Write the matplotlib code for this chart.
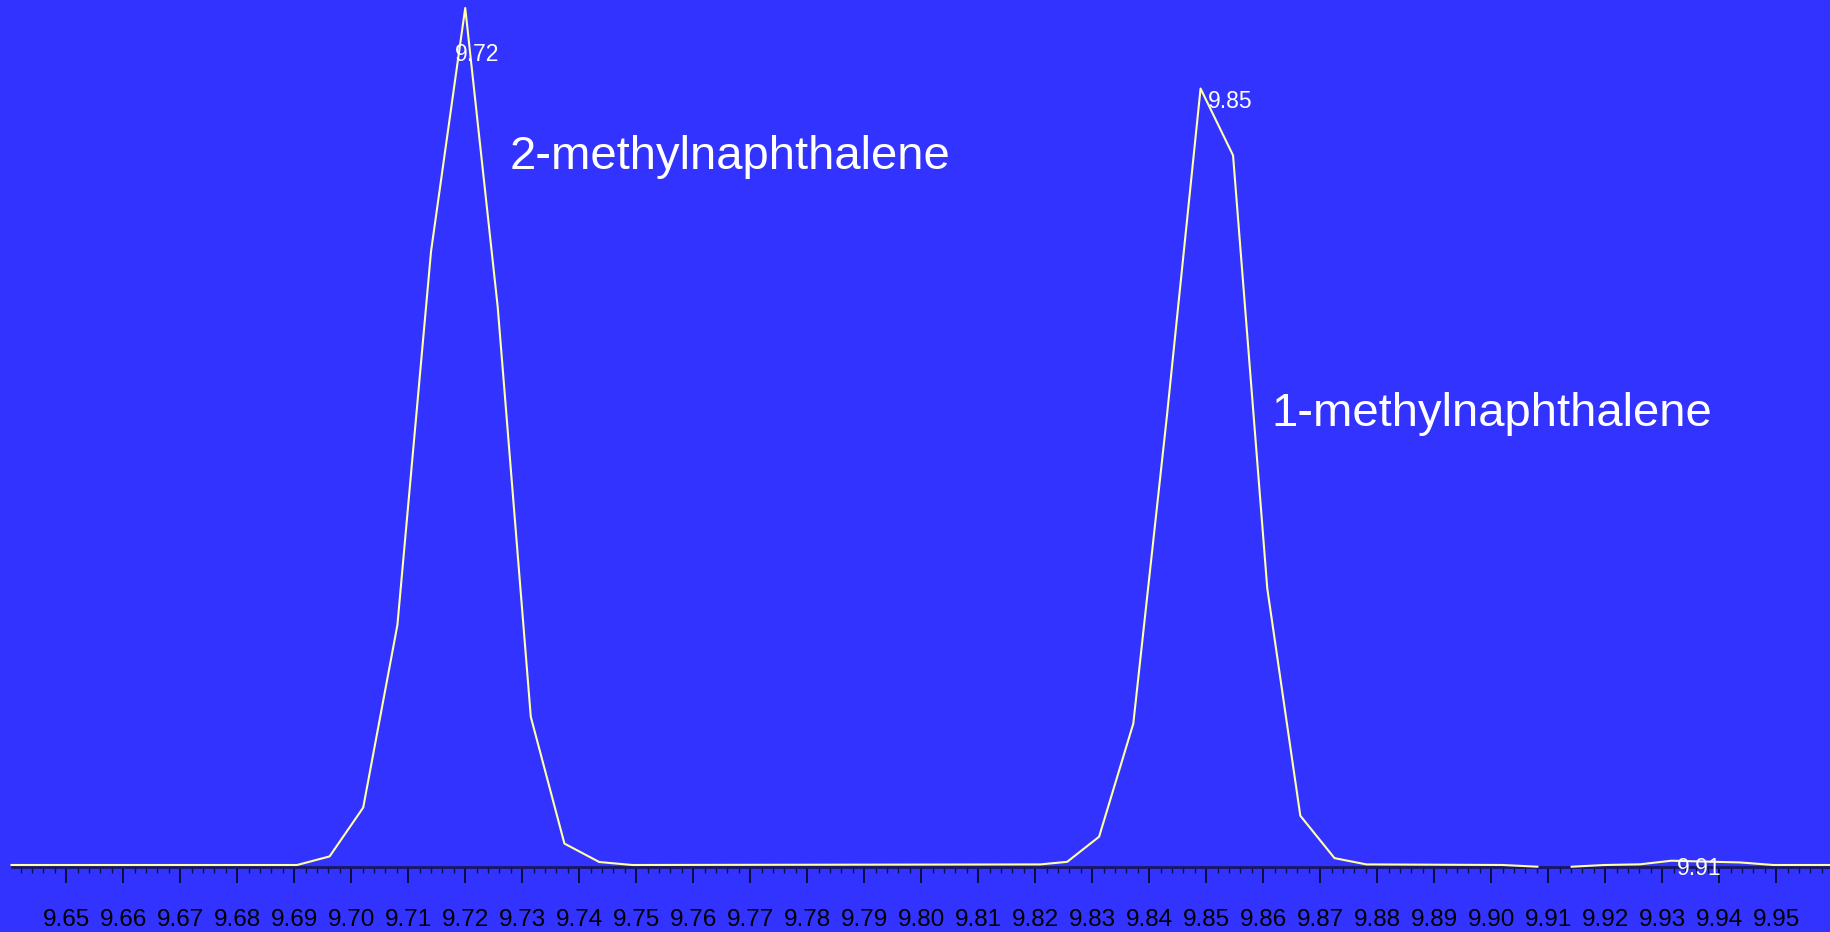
import numpy as np
import matplotlib.pyplot as plt
from matplotlib.ticker import MultipleLocator, AutoMinorLocator, FormatStrFormatter

plt.rcParams['font.family'] = ['Liberation Sans', 'DejaVu Sans']

# retention time (min) and relative abundance (%) of the trace
rt = [9.6404, 9.6905, 9.6962, 9.7021, 9.7081, 9.7140, 9.7200, 9.7257,
      9.7315, 9.7374, 9.7435, 9.7493, 9.8209, 9.8256, 9.8312, 9.8372,
      9.8431, 9.8490, 9.8547, 9.8607, 9.8665, 9.8725, 9.8781, 9.9020,
      9.9081, 9.9111, 9.9141, 9.9199, 9.9261, 9.9316, 9.9375, 9.9436,
      9.9495, 9.9600]
abundance = [0.0, 0.0, 1.0, 6.7, 28.0, 71.6, 100.0, 65.1,
             17.3, 2.5, 0.35, 0.0, 0.07, 0.37, 3.3, 16.5,
             52.4, 90.6, 82.8, 32.3, 5.75, 0.8, 0.07, 0.0,
             -0.2, np.nan, -0.2, 0.0, 0.08, 0.5, 0.4, 0.3,
             0.0, 0.0]

# labelled peak apexes
peak_rt = [9.7200, 9.8490, 9.9316]
peak_ab = [100.0, 90.6, 0.5]
peak_labels = ["9.72", "9.85", "9.91"]
peak_offsets = [(-10, -35), (7, -1), (5, 4)]

compounds = ["2-methylnaphthalene", "1-methylnaphthalene"]
compound_rt = [9.7278, 9.8615]
compound_ab = [81.2, 51.2]

bg = '#3333FF'
trace_color = '#FFFFA8'
axis_color = '#18185e'

fig = plt.figure(figsize=(18.31, 9.32), dpi=100, facecolor=bg)
ax = fig.add_axes([11.5 / 1831, 65.5 / 932, 1 - 11.5 / 1831, 866.5 / 932])
ax.set_facecolor(bg)

ax.plot(rt, abundance, color=trace_color, lw=1.5, zorder=4, clip_on=False)

ax.set_xlim(9.6404, 9.9596)
ax.set_ylim(-0.175, 100.93)

for side in ['top', 'left', 'right']:
    ax.spines[side].set_visible(False)
ax.spines['bottom'].set_color(axis_color)
ax.spines['bottom'].set_linewidth(2.0)
ax.yaxis.set_visible(False)

ax.xaxis.set_major_locator(MultipleLocator(0.01))
ax.xaxis.set_minor_locator(AutoMinorLocator(5))
ax.xaxis.set_major_formatter(FormatStrFormatter('%.2f'))
ax.tick_params(axis='x', which='major', direction='out', length=11.5,
               width=1.4, color='#0c0c3a', pad=19, labelsize=17.5,
               labelcolor='black')
ax.tick_params(axis='x', which='minor', direction='out', length=4.5,
               width=1.0, color='#101048')

for x, y, lab, (dx, dy) in zip(peak_rt, peak_ab, peak_labels, peak_offsets):
    ax.annotate(lab, (x, y), xytext=(dx, dy), textcoords='offset pixels',
                ha='left', va='top', color='white', fontsize=16.5,
                zorder=5, annotation_clip=False)

for name, x, y in zip(compounds, compound_rt, compound_ab):
    ax.text(x, y, name, ha='left', va='baseline', color='white',
            fontsize=34, zorder=5)

fig.savefig('out.png', dpi=100, facecolor=bg)
